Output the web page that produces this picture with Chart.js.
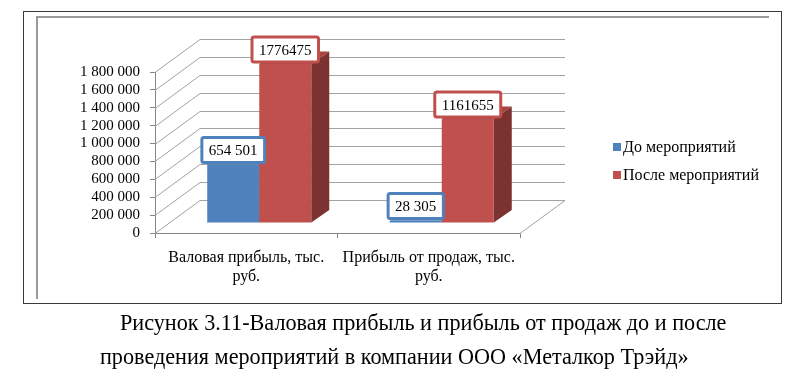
<!DOCTYPE html>
<html>
<head>
<meta charset="utf-8">
<script src="https://cdn.jsdelivr.net/npm/chart.js@4/dist/chart.umd.min.js"></script>
<style>
  html, body { margin: 0; padding: 0; background: #ffffff; }
  #wrap { position: relative; width: 800px; height: 381px; overflow: hidden; }
  canvas { position: absolute; left: 0; top: 0; }
  .cap { position: absolute; font-family: "Liberation Serif", "Times New Roman", serif; font-size: 22.2px; color: #000; white-space: nowrap; line-height: 1; }
</style>
</head>
<body>
<div id="wrap">
  <canvas id="c" width="800" height="381"></canvas>
  <div class="cap" id="cap1" style="left:120px; top:312px;">Рисунок 3.11-Валовая прибыль и прибыль от продаж до и после</div>
  <div class="cap" id="cap2" style="left:100px; top:346px;">проведения мероприятий в компании ООО «Металкор Трэйд»</div>
</div>
<script>
// ---- data ----
const categories = [["Валовая прибыль, тыс.", "руб."], ["Прибыль от продаж, тыс.", "руб."]];
const seriesNames = ["До мероприятий", "После мероприятий"];
const beforeValues = [654501, 28305];
const afterValues = [1776475, 1161655];
const yTicks = [0, 200000, 400000, 600000, 800000, 1000000, 1200000, 1400000, 1600000, 1800000];
const labelGrouped = [true, false]; // data label number style per series

// ---- styles ----
const FONT = '"Liberation Serif", "Times New Roman", serif';
const frontColors = ['#4F81BD', '#C0504D'];
const sideColors = ['#385d8a', '#7c3230'];
const topColors = ['#4674ab', '#a94440'];
const WALL = { x: 45, y: -33 };   // depth of the back wall
const SHIFT = { x: 13, y: -10 };  // front face of bars inside the box
const BD = { x: 18, y: -12.5 };   // depth of each bar
const gridColor = '#a3a3a3';

function fmtGrouped(v) { return String(v).replace(/\B(?=(\d{3})+(?!\d))/g, ' '); }

const boxPlugin = {
  id: 'box3d',
  beforeDraw(chart) {
    const ctx = chart.ctx;
    ctx.save();
    ctx.fillStyle = '#fff';
    ctx.fillRect(0, 0, chart.width, chart.height);
    ctx.strokeStyle = '#3a3a3a';
    ctx.lineWidth = 1;
    ctx.strokeRect(23.5, 11.5, 758, 292);
    ctx.strokeStyle = '#9a9a9a';
    ctx.lineWidth = 2;
    ctx.beginPath();
    ctx.moveTo(37, 299); ctx.lineTo(37, 17); ctx.lineTo(769, 17);
    ctx.stroke();
    ctx.restore();
  },
  beforeDatasetsDraw(chart) {
    const ctx = chart.ctx;
    const ys = chart.scales.y, area = chart.chartArea;
    ctx.save();
    ctx.strokeStyle = gridColor;
    ctx.lineWidth = 1;
    yTicks.forEach(v => {
      const y = Math.round(ys.getPixelForValue(v)) + 0.5;
      ctx.beginPath();
      ctx.moveTo(area.left, y);
      ctx.lineTo(area.left + WALL.x, y + WALL.y);
      ctx.lineTo(area.right + WALL.x, y + WALL.y);
      ctx.stroke();
    });
    const y0 = Math.round(ys.getPixelForValue(0)) + 0.5;
    ctx.beginPath();
    ctx.moveTo(area.right, y0);
    ctx.lineTo(area.right + WALL.x, y0 + WALL.y);
    ctx.stroke();
    ctx.restore();
  },
  // bars are drawn below (shifted into the 3D box) with the library's own elements
  beforeDatasetDraw() { return false; },
  afterDatasetsDraw(chart) {
    const ctx = chart.ctx;
    ctx.save();
    ctx.translate(SHIFT.x, SHIFT.y);
    const metas = chart.data.datasets.map((ds, i) => chart.getDatasetMeta(i));
    const nCat = chart.data.labels.length;
    for (let j = 0; j < nCat; j++) {
      metas.forEach((meta, i) => {
        const el = meta.data[j];
        const p = el.getProps(['x', 'y', 'base', 'width'], true);
        const l = p.x - p.width / 2, r = p.x + p.width / 2;
        ctx.fillStyle = sideColors[i];
        ctx.beginPath();
        ctx.moveTo(r, p.y); ctx.lineTo(r + BD.x, p.y + BD.y);
        ctx.lineTo(r + BD.x, p.base + BD.y); ctx.lineTo(r, p.base);
        ctx.closePath(); ctx.fill();
        ctx.fillStyle = topColors[i];
        ctx.beginPath();
        ctx.moveTo(l, p.y); ctx.lineTo(l + BD.x, p.y + BD.y);
        ctx.lineTo(r + BD.x, p.y + BD.y); ctx.lineTo(r, p.y);
        ctx.closePath(); ctx.fill();
        el.draw(ctx);
      });
    }
    ctx.restore();
    // data labels
    ctx.save();
    ctx.font = '15px ' + FONT;
    ctx.textAlign = 'center';
    ctx.textBaseline = 'middle';
    chart.data.datasets.forEach((ds, i) => {
      const meta = chart.getDatasetMeta(i);
      meta.data.forEach((el, j) => {
        const p = el.getProps(['x', 'y'], true);
        const v = ds.data[j];
        const txt = labelGrouped[i] ? fmtGrouped(v) : String(v);
        const w = ctx.measureText(txt).width + 14;
        const h = 25;
        const cx = p.x + SHIFT.x;
        const bottom = p.y + SHIFT.y - 2;
        const x0 = cx - w / 2, y0 = bottom - h;
        ctx.fillStyle = '#fff';
        ctx.strokeStyle = frontColors[i];
        ctx.lineWidth = 3;
        ctx.beginPath();
        ctx.roundRect(x0, y0, w, h, 2);
        ctx.fill();
        ctx.stroke();
        ctx.fillStyle = '#000';
        ctx.fillText(txt, cx, y0 + h / 2 + 1);
      });
    });
    // legend
    ctx.font = '16px ' + FONT;
    ctx.textAlign = 'left';
    chart.data.datasets.forEach((ds, i) => {
      const yc = 147 + i * 28;
      ctx.fillStyle = frontColors[i];
      ctx.fillRect(613, yc - 4, 8, 8);
      ctx.fillStyle = '#000';
      ctx.fillText(ds.label, 623, yc + 1);
    });
    ctx.restore();
  }
};

new Chart(document.getElementById('c'), {
  type: 'bar',
  data: {
    labels: categories,
    datasets: [
      { label: seriesNames[0], data: beforeValues, backgroundColor: frontColors[0] },
      { label: seriesNames[1], data: afterValues, backgroundColor: frontColors[1] }
    ]
  },
  options: {
    responsive: false,
    animation: false,
    events: [],
    categoryPercentage: 0.57,
    barPercentage: 1.0,
    layout: { padding: { left: 0, right: 280, top: 72, bottom: 0 } },
    plugins: { legend: { display: false }, tooltip: { enabled: false }, title: { display: false } },
    scales: {
      x: {
        grid: { display: true, offset: true, drawOnChartArea: false, drawTicks: true, tickLength: 5, color: '#868686' },
        border: { display: true, color: '#868686' },
        ticks: { color: '#000', font: { family: FONT, size: 16, lineHeight: 1.2 }, padding: 10, maxRotation: 0, autoSkip: false },
        afterFit(s) { s.height = 148; }
      },
      y: {
        min: 0, max: 1800000,
        afterBuildTicks(s) { s.ticks = yTicks.map(v => ({ value: v })); },
        grid: { display: true, drawOnChartArea: false, drawTicks: true, tickLength: 5, color: '#868686' },
        border: { display: true, color: '#868686' },
        ticks: { color: '#000', font: { family: FONT, size: 15 }, padding: 10, autoSkip: false, callback: v => fmtGrouped(v) },
        afterFit(s) { s.width = 155; }
      }
    }
  },
  plugins: [boxPlugin]
});
</script>
</body>
</html>
